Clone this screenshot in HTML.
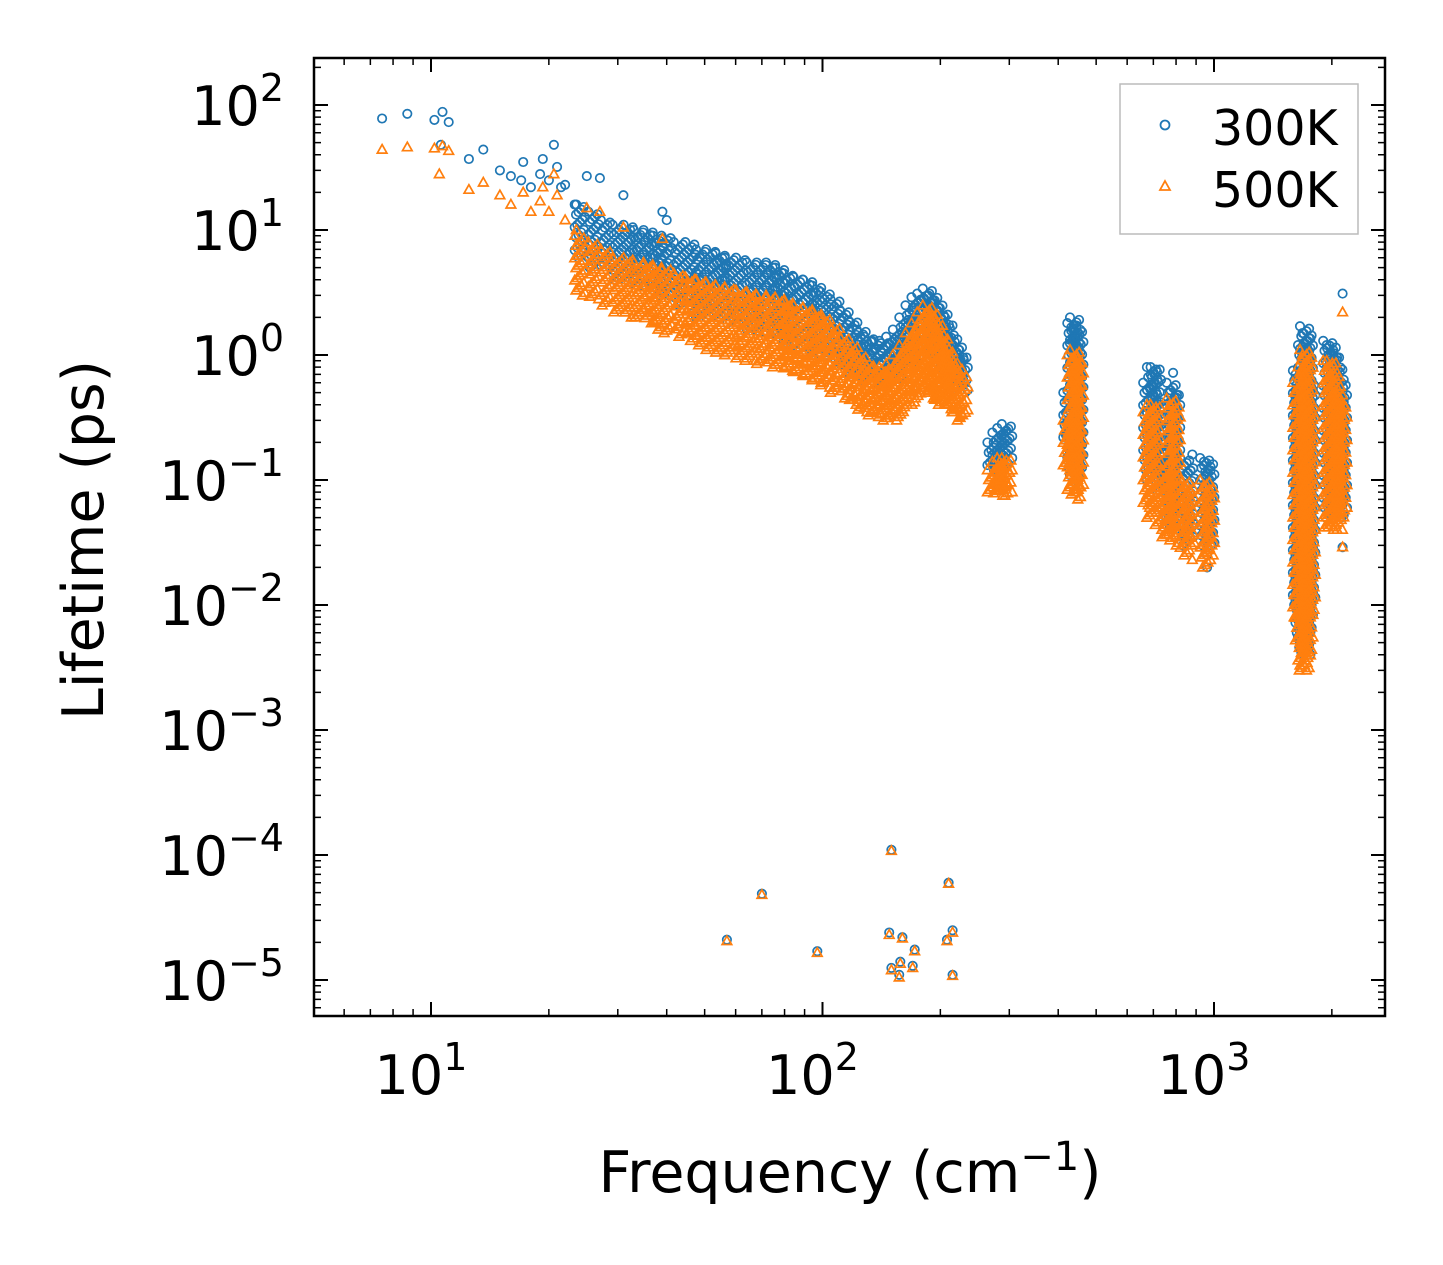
<!DOCTYPE html>
<html><head><meta charset="utf-8"><style>
body{margin:0;background:#fff;}
svg{display:block;font-family:"DejaVu Sans","Liberation Sans",sans-serif;}
</style></head><body>
<svg id="chart" width="1443" height="1265" viewBox="0 0 1443 1265" xmlns="http://www.w3.org/2000/svg">
<rect width="1443" height="1265" fill="#fff"/>
<g id="marks"></g>
<g id="axes"></g>
<text x="850" y="1192" font-size="57" text-anchor="middle">Frequency (cm<tspan dy="-22" font-size="40">−1</tspan><tspan dy="22">)</tspan></text>
<text transform="translate(103,540) rotate(-90)" font-size="57" text-anchor="middle">Lifetime (ps)</text>
<g>
<rect x="1120" y="84" width="238" height="150" fill="#fff" stroke="#bbb" stroke-width="1.5"/>
<circle cx="1165" cy="125" r="4.5" fill="none" stroke="#1f77b4" stroke-width="1.8"/>
<text x="1212" y="145" font-size="49">300K</text>
<polygon points="1165,181 1170,190 1160,190" fill="none" stroke="#ff7f0e" stroke-width="1.8"/>
<text x="1212" y="207" font-size="49">500K</text>
</g>
</svg>
<script>
// ---- data ----
const xTickExps = [1, 2, 3];
const yTickExps = [2, 1, 0, -1, -2, -3, -4, -5];
// isolated points [freq, lifetime]
const blueSparse = [[7.5,78],[8.7,85],[10.2,76],[10.6,48],[10.7,88],[11.1,73],[12.5,37],[13.6,44],[15,30],[16,27],[17,25],[17.2,35],[18,22],[19,28],[19.3,37],[20,25],[20.6,48],[21,32],[21.5,22],[22,23],[23.5,16],[25,27],[27,26],[31,19],[39,14],[40,12],[786,0.72],[880,0.16],[960,0.025],[960,0.02],[2130,3.1],[2130,0.029],
[57,2.1e-5],[70,4.9e-5],[97,1.7e-5],[150,1.1e-4],[148,2.4e-5],[150,1.25e-5],[157,1.1e-5],[158,1.4e-5],[160,2.2e-5],[170,1.3e-5],[172,1.75e-5],[208,2.1e-5],[210,6e-5],[215,2.5e-5],[215,1.1e-5]];
const orangeSparse = [[7.5,44],[8.7,46],[10.2,45],[10.5,28],[10.7,47],[11.1,43],[12.5,21],[13.6,24],[15,19],[16,16],[17.2,20],[18,14],[19,17],[19.3,22],[20,14],[20.6,28],[21,19],[22,12],[23.5,10],[25,15],[27,14],[31,10.5],[39,8.5],[880,0.023],[1650,0.008],[2130,2.2],[2130,0.029],
[57,2.05e-5],[70,4.8e-5],[97,1.65e-5],[150,1.08e-4],[148,2.3e-5],[150,1.2e-5],[157,1.05e-5],[158,1.35e-5],[160,2.15e-5],[170,1.25e-5],[172,1.7e-5],[208,2.05e-5],[210,5.9e-5],[215,2.4e-5],[215,1.08e-5]];
// clusters [freq, low, high]
const blueClusters = [[24,6,16],[26,5,14],[28,5,12],[30,4,11],[32,4,11],[34,3.5,10],[36,3.5,10],[38,3,9],[40,3,9],[43,2.5,8],[46,2.5,8],[49,2,7],[52,2,7],[55,2,6.5],[58,1.8,6],[62,1.8,6],[66,1.6,5.5],[70,1.5,5.5],[74,1.5,5.5],[78,1.4,5],[82,1.3,4.5],[87,1.2,4.2],[92,1.1,4],[97,1,3.6],[102,1,3.2],[108,0.9,2.8],[114,0.8,2.3],[120,0.7,1.9],[126,0.65,1.6],[132,0.6,1.4],[138,0.6,1.3],[144,0.6,1.3],[150,0.6,1.4],[156,0.65,1.6],[162,0.7,2],[168,0.8,2.5],[174,0.9,2.9],[180,1,3.1],[186,1,3.4],[192,0.9,3],[198,0.8,2.6],[204,0.75,2.2],[210,0.7,1.8],[216,0.6,1.4],[222,0.55,1.2],[228,0.5,1],[272,0.12,0.2],[280,0.12,0.24],[288,0.13,0.26],[296,0.15,0.28],[425,0.2,0.5],[435,0.12,1.8],[442,0.1,2],[450,0.12,1.6],[680,0.12,0.6],[695,0.1,0.8],[710,0.12,0.8],[730,0.08,0.15],[760,0.05,0.2],[780,0.05,0.6],[795,0.04,0.5],[845,0.03,0.15],[865,0.035,0.13],[950,0.03,0.15],[972,0.03,0.14],[1640,0.01,0.75],[1665,0.006,0.7],[1690,0.004,1.2],[1710,0.004,1.7],[1735,0.006,1.5],[1760,0.01,0.6],[1960,0.05,1.3],[2000,0.05,1.2],[2040,0.06,1],[2080,0.05,0.8],[2120,0.06,0.6]];
const orangeClusters = [[24,3,9],[26,2.8,8],[28,2.5,7],[30,2.2,6],[32,2,6],[34,2,5.5],[36,1.8,5.5],[38,1.6,5],[40,1.5,5],[43,1.4,4.5],[46,1.3,4.2],[49,1.2,4],[52,1.1,3.8],[55,1,3.6],[58,1,3.5],[62,0.9,3.3],[66,0.9,3.2],[70,0.85,3],[74,0.8,3],[78,0.8,2.9],[82,0.75,2.7],[87,0.7,2.5],[92,0.65,2.4],[97,0.6,2.2],[102,0.55,2],[108,0.5,1.7],[114,0.45,1.4],[120,0.4,1.2],[126,0.35,1],[132,0.33,0.85],[138,0.32,0.8],[144,0.3,0.8],[150,0.3,0.85],[156,0.32,1],[162,0.35,1.2],[168,0.4,1.5],[174,0.45,1.8],[180,0.5,2.2],[186,0.5,2.5],[192,0.45,2.2],[198,0.42,1.8],[204,0.4,1.4],[210,0.37,1.1],[216,0.35,0.9],[222,0.32,0.8],[228,0.3,0.7],[272,0.08,0.12],[280,0.075,0.14],[288,0.075,0.15],[296,0.08,0.15],[425,0.12,0.3],[435,0.08,1],[442,0.07,1.1],[450,0.08,0.9],[680,0.06,0.35],[695,0.05,0.4],[710,0.06,0.4],[730,0.04,0.1],[760,0.035,0.12],[780,0.035,0.45],[795,0.03,0.4],[845,0.025,0.1],[865,0.03,0.09],[950,0.02,0.1],[972,0.025,0.09],[1640,0.008,0.6],[1665,0.005,0.5],[1690,0.003,0.8],[1710,0.003,1.1],[1735,0.004,1],[1760,0.008,0.4],[1960,0.04,0.9],[2000,0.04,0.9],[2040,0.05,0.7],[2080,0.04,0.5],[2120,0.05,0.4]];

// ---- axes ----
const L=314,R=1385,T=58,B=1016;
const x0=431, dx=391.5, y0=105, dy=125;
const xs=f=>x0+(Math.log10(f)-1)*dx;
const ys=v=>y0+(2-Math.log10(v))*dy;
const NS="http://www.w3.org/2000/svg";
function mk(tag,attrs,parent){const e=document.createElementNS(NS,tag);for(const k in attrs)e.setAttribute(k,attrs[k]);parent.appendChild(e);return e;}
const axes=document.getElementById('axes'), marks=document.getElementById('marks');

function drawCircle(x,y){
  const c=mk('circle',{cx:x.toFixed(1),cy:y.toFixed(1),r:4.2,fill:'none',stroke:'#1f77b4','stroke-width':1.7},marks);
  
  
}
function drawTri(x,y){
  const p=mk('polygon',{points:`${x.toFixed(1)},${(y-5).toFixed(1)} ${(x+4.8).toFixed(1)},${(y+3.5).toFixed(1)} ${(x-4.8).toFixed(1)},${(y+3.5).toFixed(1)}`,fill:'none',stroke:'#ff7f0e','stroke-width':1.7},marks);
  
  
}
function drawClusters(cl,fn){
  cl.forEach(([f,lo,hi])=>{
    const x=xs(f), yt=ys(hi), yb=ys(lo);
    const n=Math.max(1,Math.round((yb-yt)/2.5));
    for(let i=0;i<=n;i++){
      const jx=((i*7)%9-4)*1.3;
      fn(x+jx, yt+(yb-yt)*i/n);
    }
  });
}
drawClusters(blueClusters,drawCircle);
blueSparse.forEach(([f,v])=>drawCircle(xs(f),ys(v)));
drawClusters(orangeClusters,drawTri);
orangeSparse.forEach(([f,v])=>drawTri(xs(f),ys(v)));

// frame
const fr=mk('rect',{x:L,y:T,width:R-L,height:B-T,fill:'none',stroke:'#000','stroke-width':2.5},axes);



// x ticks
for(let e=0;e<=3;e++){
  for(let m=1;m<=9;m++){
    const x=xs(m*Math.pow(10,e));
    if(x<L||x>R)continue;
    const len=m===1?14:7;
    mk('line',{x1:x,y1:B,x2:x,y2:B-len,stroke:'#000','stroke-width':m===1?2:1.5},axes);
    mk('line',{x1:x,y1:T,x2:x,y2:T+len,stroke:'#000','stroke-width':m===1?2:1.5},axes);
  }
}
xTickExps.forEach(e=>{
  const x=xs(Math.pow(10,e));
  const t=mk('text',{x:x-10,y:1094,'font-size':54,'text-anchor':'middle'},axes);
  
  
  t.innerHTML=`10<tspan dy="-24" font-size="38">${e}</tspan>`;
});
// y ticks
for(let e=-6;e<=2;e++){
  for(let m=1;m<=9;m++){
    const y=ys(m*Math.pow(10,e));
    if(y<T||y>B)continue;
    const len=m===1?14:7;
    mk('line',{x1:L,y1:y,x2:L+len,y2:y,stroke:'#000','stroke-width':m===1?2:1.5},axes);
    mk('line',{x1:R,y1:y,x2:R-len,y2:y,stroke:'#000','stroke-width':m===1?2:1.5},axes);
  }
}
yTickExps.forEach(e=>{
  const y=ys(Math.pow(10,e));
  const t=mk('text',{x:284,y:y+20,'font-size':54,'text-anchor':'end'},axes);
  
  
  const lab=e<0?'−'+(-e):String(e);
  t.innerHTML=`10<tspan dy="-24" font-size="38">${lab}</tspan>`;
});
</script>
</body></html>
